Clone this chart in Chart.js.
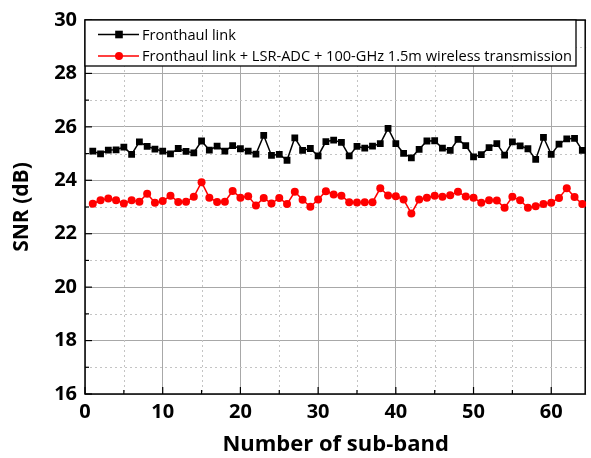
<!DOCTYPE html>
<html>
<head>
<meta charset="utf-8">
<script src="https://cdn.jsdelivr.net/npm/chart.js@4.4.0/dist/chart.umd.min.js"></script>
<style>
html, body { margin: 0; padding: 0; background: #fff; }
</style>
</head>
<body>
<canvas id="myChart" width="591" height="458"></canvas>
<script>
// sub-band index
const subBand = [1, 2, 3, 4, 5, 6, 7, 8, 9, 10, 11, 12, 13, 14, 15, 16,
    17, 18, 19, 20, 21, 22, 23, 24, 25, 26, 27, 28, 29, 30, 31, 32,
    33, 34, 35, 36, 37, 38, 39, 40, 41, 42, 43, 44, 45, 46, 47, 48,
    49, 50, 51, 52, 53, 54, 55, 56, 57, 58, 59, 60, 61, 62, 63, 64];

const snrFronthaul = [25.09, 24.99, 25.13, 25.14, 25.24, 24.97, 25.44, 25.27, 25.17, 25.09, 24.99, 25.19, 25.08, 25.03, 25.47, 25.13,
    25.28, 25.09, 25.30, 25.18, 25.09, 24.98, 25.68, 24.93, 24.97, 24.75, 25.59, 25.12, 25.19, 24.91, 25.45, 25.50,
    25.42, 24.91, 25.27, 25.20, 25.28, 25.37, 25.94, 25.37, 25.01, 24.84, 25.16, 25.47, 25.48, 25.20, 25.12, 25.53,
    25.30, 24.88, 24.96, 25.22, 25.37, 24.94, 25.44, 25.29, 25.18, 24.78, 25.61, 24.97, 25.35, 25.55, 25.57, 25.12];

const snrWireless = [23.12, 23.25, 23.32, 23.25, 23.13, 23.25, 23.20, 23.50, 23.16, 23.22, 23.42, 23.19, 23.20, 23.38, 23.93, 23.35,
    23.19, 23.20, 23.60, 23.35, 23.40, 23.06, 23.34, 23.13, 23.34, 23.11, 23.57, 23.27, 23.01, 23.28, 23.59, 23.47,
    23.42, 23.18, 23.17, 23.18, 23.18, 23.70, 23.43, 23.40, 23.28, 22.76, 23.28, 23.35, 23.42, 23.38, 23.44, 23.57,
    23.39, 23.35, 23.16, 23.25, 23.24, 22.97, 23.38, 23.25, 22.97, 23.03, 23.11, 23.16, 23.34, 23.70, 23.37, 23.11];

const seriesNames = ["Fronthaul link", "Fronthaul link + LSR-ADC + 100-GHz 1.5m wireless transmission"];
const xTicks = [0, 10, 20, 30, 40, 50, 60];
const xMinor = [5, 15, 25, 35, 45, 55];
const yTicks = [16, 18, 20, 22, 24, 26, 28, 30];
const yMinor = [17, 19, 21, 23, 25, 27, 29];

const FONT = "'Open Sans', 'DejaVu Sans', sans-serif";

// dotted minor grid, inner ticks, frame and boxed legend
const decor = {
    id: 'decor',
    beforeDatasetsDraw(chart) {
        const c = chart.ctx, a = chart.chartArea;
        const sx = chart.scales.x, sy = chart.scales.y;
        c.save();
        c.strokeStyle = '#c4c4c4';
        c.lineWidth = 1;
        c.setLineDash([2, 3]);
        xMinor.forEach(v => {
            const px = Math.round(sx.getPixelForValue(v)) + 0.5;
            c.beginPath(); c.moveTo(px, a.top); c.lineTo(px, a.bottom); c.stroke();
        });
        yMinor.forEach(v => {
            const py = Math.round(sy.getPixelForValue(v)) + 0.5;
            c.beginPath(); c.moveTo(a.left, py); c.lineTo(a.right, py); c.stroke();
        });
        c.setLineDash([]);
        c.strokeStyle = '#000';
        c.lineWidth = 1.2;
        xTicks.concat(xMinor).forEach(v => {
            const px = sx.getPixelForValue(v);
            const len = xTicks.includes(v) ? 7 : 4;
            c.beginPath(); c.moveTo(px, a.bottom); c.lineTo(px, a.bottom - len); c.stroke();
        });
        yTicks.concat(yMinor).forEach(v => {
            const py = sy.getPixelForValue(v);
            const len = yTicks.includes(v) ? 7 : 4;
            c.beginPath(); c.moveTo(a.left, py); c.lineTo(a.left + len, py); c.stroke();
        });
        c.lineWidth = 1.5;
        c.strokeRect(a.left, a.top, a.right - a.left - 1, a.bottom - a.top);
        c.restore();
    },
    afterDatasetsDraw(chart) {
        const c = chart.ctx, a = chart.chartArea;
        const bx = a.left, by = a.top, bw = 491, bh = 46;
        c.save();
        c.fillStyle = '#fff';
        c.fillRect(bx, by, bw, bh);
        c.strokeStyle = '#000';
        c.lineWidth = 1.3;
        c.strokeRect(bx, by, bw, bh);
        const rows = [
            { color: '#000', style: 'rect', y: by + 14.5 },
            { color: '#ff0000', style: 'circle', y: by + 36 }
        ];
        rows.forEach((r, i) => {
            c.strokeStyle = r.color;
            c.lineWidth = 1.5;
            c.beginPath(); c.moveTo(bx + 13, r.y); c.lineTo(bx + 54, r.y); c.stroke();
            c.fillStyle = r.color;
            if (r.style === 'rect') {
                c.fillRect(bx + 34 - 3.8, r.y - 3.8, 7.6, 7.6);
            } else {
                c.beginPath(); c.arc(bx + 34, r.y, 4, 0, Math.PI * 2); c.fill();
            }
            c.fillStyle = '#000';
            c.font = '14.6px ' + FONT;
            c.textBaseline = 'middle';
            c.fillText(seriesNames[i], bx + 57, r.y + 1);
        });
        c.restore();
    }
};

const ctx = document.getElementById('myChart');
new Chart(ctx, {
    type: 'line',
    data: {
        datasets: [{
            label: seriesNames[0],
            data: subBand.map((b, i) => ({ x: b, y: snrFronthaul[i] })),
            borderColor: '#000',
            backgroundColor: '#000',
            borderWidth: 1.5,
            pointStyle: 'rect',
            pointRadius: 4.8,
            pointBorderWidth: 0,
            tension: 0
        }, {
            label: seriesNames[1],
            data: subBand.map((b, i) => ({ x: b, y: snrWireless[i] })),
            borderColor: '#ff0000',
            backgroundColor: '#ff0000',
            borderWidth: 1.5,
            pointStyle: 'circle',
            pointRadius: 4,
            pointBorderWidth: 0,
            tension: 0
        }]
    },
    options: {
        responsive: false,
        animation: false,
        layout: { padding: { top: 18, right: 1, left: 0, bottom: 0 } },
        plugins: { legend: { display: false }, tooltip: { enabled: false } },
        scales: {
            x: {
                type: 'linear',
                min: 0,
                max: 64.5,
                afterBuildTicks: s => { s.ticks = xTicks.map(v => ({ value: v })); },
                afterFit: s => { s.height = 64; },
                grid: { color: '#a8a8a8', lineWidth: 1, drawTicks: false },
                border: { display: false },
                ticks: { color: '#000', font: { family: FONT, size: 20, weight: 'bold' }, padding: 6, maxRotation: 0 },
                title: { display: true, text: 'Number of sub-band', color: '#000', font: { family: FONT, size: 22, weight: 'bold' }, padding: { top: 0, bottom: 0 } }
            },
            y: {
                min: 16,
                max: 30,
                afterBuildTicks: s => { s.ticks = yTicks.map(v => ({ value: v })); },
                afterFit: s => { s.width = 85; },
                grid: { color: '#a8a8a8', lineWidth: 1, drawTicks: false },
                border: { display: false },
                ticks: { color: '#000', font: { family: FONT, size: 20, weight: 'bold' }, padding: 8 },
                title: { display: true, text: 'SNR (dB)', color: '#000', font: { family: FONT, size: 21, weight: 'bold' }, padding: { top: 9, bottom: 0 } }
            }
        }
    },
    plugins: [decor]
});
</script>
</body>
</html>
